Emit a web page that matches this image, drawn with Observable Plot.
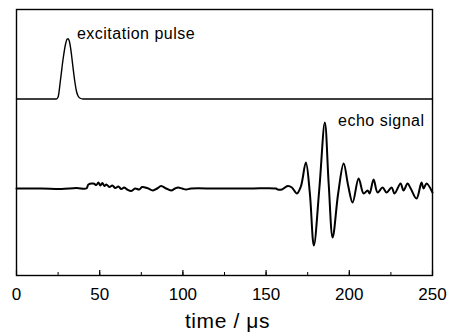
<!DOCTYPE html>
<html>
<head>
<meta charset="utf-8">
<script src="https://cdn.jsdelivr.net/npm/d3@7"></script>
<script src="https://cdn.jsdelivr.net/npm/@observablehq/plot@0.6"></script>
<style>
  html, body { margin: 0; padding: 0; background: #fff; }
  #chart svg { display: block; }
</style>
</head>
<body>
<div id="chart"></div>
<script>
// Excitation pulse (time in µs, amplitude in arbitrary units above its own baseline)
const pulseTime = [0, 10, 20, 24, 25, 26.5, 28, 29.5, 30.5, 31.2, 32, 33, 34, 35, 36, 37, 38, 40, 60, 100, 150, 200, 250];
const pulseAmp  = [0, 0, 0, 0, 2, 20, 40, 55, 60, 60, 56, 45, 31, 18, 8, 3, 1, 0, 0, 0, 0, 0, 0];

// Echo signal (time in µs, amplitude in arbitrary units)
const echoTime = [0, 15, 27, 36, 42, 43.2, 46.2, 48, 49.2, 50.4, 51.6, 52.8, 54, 55.8, 57.6, 59.4, 61.2, 63, 64.7, 66.5, 69, 71.3, 73.7, 75.5, 78.5, 82, 84.5, 86.9, 89.9, 92.9, 95.3, 97.1, 99.5, 101.9, 104.9, 120, 140, 155.9, 157, 159.5, 163, 165.5, 168.5, 170.9, 173.9, 176.3, 178.7, 182, 185.3, 187.6, 190, 193.3, 196.6, 199.3, 202, 205.6, 208.6, 211, 212.2, 214.6, 217, 220, 222.4, 225.4, 227.2, 230.8, 232.6, 235, 236.9, 240.4, 243.4, 244.6, 246.4, 250];
const echoAmp  = [0, 0, -0.5, 0.5, 0, 4, 5, 3.5, 6, 3, 5.5, 2.5, 4, 1.5, 3, 0.5, 2, -0.5, 1, -1, -2.5, 0, -1, 1.5, 0.5, -2, 0, 2.5, 0, -2, 0, 1, 0, -1, 0, 0, 0, 0, -1, -1, 2.5, 1, -5, 2, 26, -5, -57, 0, 66, 5, -49, -5, 25, 3, -14, 10, -5, -2, -5, 9, -4, 1, -4, 1, -5, 5, -2, 5, 0, -10, 6, 0, 5, -4];

// Vertical offset that separates the two traces (same amplitude units)
const pulseOffset = 89.5;

// Axis ticks
const minorTicks = [0, 25, 50, 75, 100, 125, 150, 175, 200, 225, 250];
const majorTicks = [0, 50, 100, 150, 200, 250];
const axisLabel = "time / μs";

// Annotations
const annotationText = ["excitation pulse", "echo signal"];
const annotationTime = [36.3, 245.2];
const annotationAmp  = [155, 68];
const annotationAnchor = ["start", "end"];

const pulse = pulseTime.map((t, i) => ({t, v: pulseAmp[i] + pulseOffset}));
const echo = echoTime.map((t, i) => ({t, v: echoAmp[i]}));
const notes = annotationText.map((s, i) => ({s, t: annotationTime[i], v: annotationAmp[i], a: annotationAnchor[i]}));

const chart = Plot.plot({
  width: 455,
  height: 336,
  marginLeft: 16,
  marginRight: 23,
  marginTop: 9,
  marginBottom: 61,
  style: {fontFamily: "'Liberation Sans', Arial, sans-serif", color: "#000", background: "#fff"},
  x: {domain: [0, 250]},
  y: {domain: [-87, 179], axis: null},
  marks: [
    Plot.line(pulse, {x: "t", y: "v", stroke: "#000", strokeWidth: 1.4, curve: "monotone-x"}),
    Plot.line(echo, {x: "t", y: "v", stroke: "#000", strokeWidth: 2, curve: "catmull-rom"}),
    Plot.axisX(minorTicks, {tickSize: -3, tickFormat: () => "", label: null, strokeWidth: 1}),
    Plot.axisX(majorTicks, {tickSize: -5, tickPadding: 17, fontSize: 17, label: null, strokeWidth: 1.2}),
    Plot.text([axisLabel], {frameAnchor: "bottom", text: d => d, dx: 3, dy: 52, fontSize: 21, fill: "#000"}),
    Plot.text(notes.filter(d => d.a === "start"), {x: "t", y: "v", text: "s", textAnchor: "start", fontSize: 16, fill: "#000"}),
    Plot.text(notes.filter(d => d.a === "end"), {x: "t", y: "v", text: "s", textAnchor: "end", fontSize: 16, fill: "#000"}),
    Plot.frame({stroke: "#000", strokeWidth: 1.4})
  ]
});
// slightly wider letter spacing, as in the scanned figure
d3.select(chart).selectAll("text").each(function () {
  const s = this.textContent;
  if (s === axisLabel) this.setAttribute("letter-spacing", "0.6px");
  else if (annotationText.includes(s)) this.setAttribute("letter-spacing", "0.5px");
});
document.getElementById("chart").appendChild(chart);
</script>
</body>
</html>
